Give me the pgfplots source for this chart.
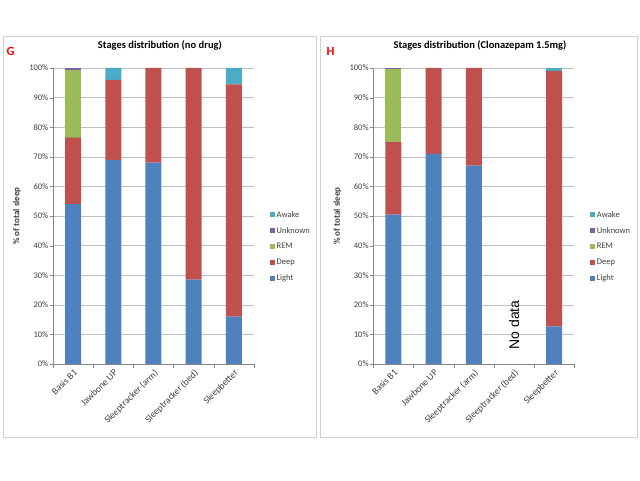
\documentclass[border=0pt]{standalone}
\usepackage{pgfplots}
\pgfplotsset{compat=1.18}
\usepackage{fontspec}
\setmainfont{Carlito}
\newfontfamily\arialfont{Liberation Sans}
\definecolor{cLight}{HTML}{4F81BD}
\definecolor{cDeep}{HTML}{C0504D}
\definecolor{cREM}{HTML}{9BBB59}
\definecolor{cUnk}{HTML}{8064A2}
\definecolor{cAwake}{HTML}{4BACC6}
\definecolor{cGrid}{HTML}{BFBFBF}
\definecolor{cAxis}{HTML}{868686}
\definecolor{cTxt}{HTML}{404040}
\definecolor{cFrame}{HTML}{D0D0D0}
\pgfplotsset{
  panel/.style={
    scale only axis,
    width=201pt, height=296pt,
    ybar stacked,
    bar width=16pt,
    xmin=-0.5, xmax=4.5,
    ymin=0, ymax=100,
    axis x line*=bottom, axis y line*=left,
    axis line style={cAxis},
    ytick={0,10,...,100},
    yticklabels={0\%,10\%,20\%,30\%,40\%,50\%,60\%,70\%,80\%,90\%,100\%},
    yticklabel style={font=\fontsize{8.5}{10}\selectfont, text=cTxt, inner sep=1.5pt},
    ymajorgrids, grid style={cGrid, line width=0.6pt},
    tick align=outside, major tick length=3pt, minor tick length=4pt,
    tick style={cAxis},
    xtick={0,1,2,3,4},
    minor xtick={-0.5,0.5,1.5,2.5,3.5,4.5},
    xticklabels={Basis B1, Jawbone UP, Sleeptracker (arm), Sleeptracker (bed), Sleepbetter},
    xticklabel style={rotate=45, anchor=north east, font=\fontsize{9.5}{11}\selectfont, text=cTxt, inner sep=1pt},
    major x tick style={draw=none},
    minor x tick style={draw=cAxis},
    ylabel={\bfseries \% of total sleep},
    ylabel style={font=\fontsize{9}{10}\selectfont, text=cTxt, at={(axis description cs:-0.179,0.5)}, anchor=center},
    title style={font=\fontsize{10.5}{12}\selectfont\bfseries, anchor=center, yshift=0pt},
    legend style={draw=none, fill=none, font=\fontsize{8.5}{10}\selectfont, text=cTxt,
      at={(axis description cs:1.062,0.397)}, anchor=west, row sep=4.6pt,
      /tikz/every even column/.append style={column sep=0pt}},
    legend cell align=left,
    reverse legend,
    legend image code/.code={\fill[##1] (0pt,-2.5pt) rectangle (5pt,2.5pt);},
  }
}
\begin{document}
\begin{tikzpicture}[x=1pt,y=1pt]
\useasboundingbox[fill=white] (0,0) rectangle (640,480);
\draw[cFrame, line width=1pt] (3,43) rectangle (316.5,443);
\draw[cFrame, line width=1pt] (320.5,43) rectangle (637.5,443);
\node[text=red, font=\fontsize{12.5}{14}\selectfont\bfseries] at (10.5,429) {G};
\node[text=red, font=\fontsize{12.5}{14}\selectfont\bfseries] at (330.5,429) {H};
\begin{axis}[panel, at={(53pt,116pt)}, anchor=south west,
  title={Stages distribution (no drug)},
  title style={at={(axis description cs:0.532,1.057)}}]
\addplot[fill=cLight, draw=none] coordinates {(0,54) (1,69) (2,68) (3,28.5) (4,16)};
\addplot[fill=cDeep, draw=none] coordinates {(0,22.5) (1,27) (2,32) (3,71.5) (4,78.5)};
\addplot[fill=cREM, draw=none] coordinates {(0,22.7) (1,0) (2,0) (3,0) (4,0)};
\addplot[fill=cUnk, draw=none] coordinates {(0,0.8) (1,0) (2,0) (3,0) (4,0)};
\addplot[fill=cAwake, draw=none] coordinates {(0,0) (1,4) (2,0) (3,0) (4,5.5)};
\legend{Light,Deep,REM,Unknown,Awake}
\end{axis}
\begin{axis}[panel, at={(373.3pt,116pt)}, anchor=south west,
  title={Stages distribution (Clonazepam 1.5mg)},
  title style={at={(axis description cs:0.531,1.057)}}]
\addplot[fill=cLight, draw=none] coordinates {(0,50.5) (1,71) (2,67) (3,0) (4,12.7)};
\addplot[fill=cDeep, draw=none] coordinates {(0,24.5) (1,29) (2,33) (3,0) (4,86.3)};
\addplot[fill=cREM, draw=none] coordinates {(0,24.5) (1,0) (2,0) (3,0) (4,0)};
\addplot[fill=cUnk, draw=none] coordinates {(0,0.5) (1,0) (2,0) (3,0) (4,0)};
\addplot[fill=cAwake, draw=none] coordinates {(0,0) (1,0) (2,0) (3,0) (4,1)};
\legend{Light,Deep,REM,Unknown,Awake}
\node[rotate=90, font=\arialfont\fontsize{14}{16}\selectfont] at (axis cs:3,13.2) {No data};
\end{axis}
\end{tikzpicture}
\end{document}
